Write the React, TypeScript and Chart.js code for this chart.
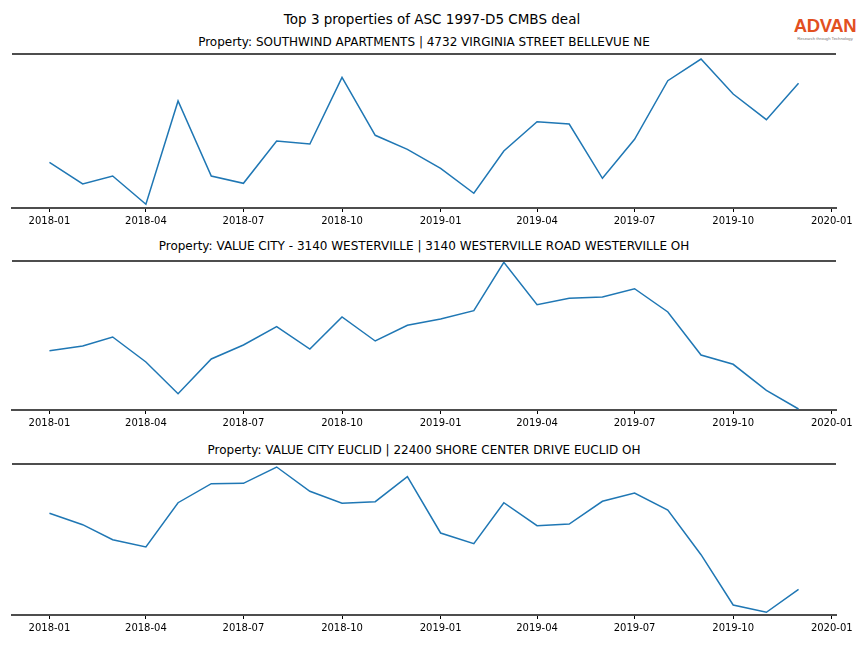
import React, { useEffect, useRef } from "react";
import { Chart, registerables } from "chart.js";

Chart.register(...registerables);

// ---- data ----
const months = [
  "2018-01", "2018-02", "2018-03", "2018-04", "2018-05", "2018-06",
  "2018-07", "2018-08", "2018-09", "2018-10", "2018-11", "2018-12",
  "2019-01", "2019-02", "2019-03", "2019-04", "2019-05", "2019-06",
  "2019-07", "2019-08", "2019-09", "2019-10", "2019-11", "2019-12",
];
const tickLabels = [
  "2018-01", "2018-04", "2018-07", "2018-10", "2019-01",
  "2019-04", "2019-07", "2019-10", "2020-01",
];

const suptitle = "Top 3 properties of ASC 1997-D5 CMBS deal";
const titles = [
  "Property: SOUTHWIND APARTMENTS | 4732 VIRGINIA STREET BELLEVUE NE",
  "Property: VALUE CITY - 3140 WESTERVILLE | 3140 WESTERVILLE ROAD WESTERVILLE OH",
  "Property: VALUE CITY EUCLID | 22400 SHORE CENTER DRIVE EUCLID OH",
];

const southwind = [
  45.7, 24, 32, 3.7, 107, 32, 24.7, 67, 64, 130.7, 72.7, 58.7,
  39.7, 14.7, 57, 86.3, 84, 29.7, 68.7, 127.3, 149, 114, 88.3, 124.7,
];
const westerville = [
  59.3, 64, 73, 48, 16.3, 51, 65, 83.3, 61, 93, 69, 84.7,
  91, 99.3, 147.7, 105.3, 111.7, 113, 121.3, 98, 55, 45.7, 19.7, 1,
];
const euclid = [
  101.7, 90.3, 75.3, 68, 112.3, 131.3, 131.7, 148, 123.7, 111.7, 113.3, 138.3,
  82, 71.3, 112.3, 89.3, 91, 113.7, 122, 105, 60.3, 10, 2.7, 25.7,
];
const yMax = [154, 149, 151];

// ---- helpers: month string -> days since 2018-01-01 ----
const EPOCH = Date.UTC(2018, 0, 1);
function dayOf(s: string): number {
  const [y, m] = s.split("-").map(Number);
  return (Date.UTC(y, m - 1, 1) - EPOCH) / 86400000;
}

// ---- layout ----
const W = 864;
const H = 648;
const PAD_TOP = 6;
const AXIS_H = 26;
const panels = [
  { values: southwind, top: 54, plotH: 154, titleY: 42 },
  { values: westerville, top: 261, plotH: 149, titleY: 246 },
  { values: euclid, top: 464, plotH: 151, titleY: 450 },
];

const FONT = "'DejaVu Sans', sans-serif";

const topSpine = {
  id: "topSpine",
  afterDraw(chart: any) {
    const { ctx, chartArea } = chart;
    ctx.save();
    ctx.strokeStyle = "#4d4d4d";
    ctx.lineWidth = 2;
    ctx.beginPath();
    ctx.moveTo(chartArea.left, chartArea.top);
    ctx.lineTo(chartArea.right, chartArea.top);
    ctx.stroke();
    ctx.restore();
  },
};

function Panel({ values, top, plotH, max }: { values: number[]; top: number; plotH: number; max: number }) {
  const ref = useRef<HTMLCanvasElement | null>(null);
  const canvasH = PAD_TOP + plotH + AXIS_H;
  useEffect(() => {
    if (!ref.current) return;
    const first = dayOf(months[0]);
    const last = dayOf(months[months.length - 1]);
    const margin = (last - first) * 0.05;
    const tickPos = tickLabels.map(dayOf);
    const chart = new Chart(ref.current, {
      type: "line",
      data: {
        datasets: [
          {
            data: values.map((v, i) => ({ x: dayOf(months[i]), y: v })),
            borderColor: "#1f77b4",
            borderWidth: 1.5,
            pointRadius: 0,
            tension: 0,
            fill: false,
          },
        ],
      },
      options: {
        animation: false,
        responsive: false,
        devicePixelRatio: 1,
        layout: { padding: { left: 12, right: 28, top: PAD_TOP, bottom: 0 } },
        plugins: { legend: { display: false }, title: { display: false }, tooltip: { enabled: false } },
        scales: {
          x: {
            type: "linear",
            min: first - margin,
            max: last + margin,
            afterBuildTicks: (scale: any) => {
              scale.ticks = tickPos.map((v) => ({ value: v }));
            },
            afterFit: (scale: any) => {
              scale.height = AXIS_H;
            },
            ticks: {
              autoSkip: false,
              maxRotation: 0,
              padding: 3,
              color: "#000",
              font: { family: FONT, size: 10 },
              callback: (v: any) => {
                const idx = tickPos.indexOf(Number(v));
                return idx >= 0 ? tickLabels[idx] : "";
              },
            },
            grid: {
              display: true,
              drawOnChartArea: false,
              drawTicks: true,
              tickLength: 4,
              tickColor: "#000",
              tickWidth: 1,
            },
            border: { display: true, color: "#4d4d4d", width: 2 },
          },
          y: {
            display: false,
            min: 0,
            max: max,
          },
        },
      },
      plugins: [topSpine],
    } as any);
    return () => chart.destroy();
  }, [values, max]);
  return (
    <canvas
      ref={ref}
      width={W}
      height={canvasH}
      style={{ position: "absolute", left: 0, top: top - PAD_TOP, width: W, height: canvasH }}
    />
  );
}

export default function App() {
  return (
    <div style={{ position: "absolute", left: 0, top: 0, width: W, height: H, background: "#fff", fontFamily: FONT, overflow: "hidden" }}>
      <div style={{ position: "absolute", left: 0, width: W, top: 10, height: 18, lineHeight: "18px", textAlign: "center", fontSize: 13.5, color: "#000" }}>
        {suptitle}
      </div>
      {panels.map((p, i) => (
        <div key={"t" + i} style={{ position: "absolute", left: 12, width: 824, top: p.titleY - 8, height: 16, lineHeight: "16px", textAlign: "center", fontSize: 12, color: "#000", whiteSpace: "nowrap" }}>
          {titles[i]}
        </div>
      ))}
      {panels.map((p, i) => (
        <Panel key={i} values={p.values} top={p.top} plotH={p.plotH} max={yMax[i]} />
      ))}
      <div style={{ position: "absolute", left: 790, top: 16, width: 70, textAlign: "center" }}>
        <div style={{ fontFamily: "'Liberation Sans', sans-serif", fontWeight: 700, fontSize: 18.5, lineHeight: "20px", color: "#e2501f", letterSpacing: -0.4 }}>ADVAN</div>
        <div style={{ fontFamily: "'Liberation Sans', sans-serif", fontSize: 4.2, lineHeight: "5px", color: "#777", whiteSpace: "nowrap" }}>Research through Technology</div>
      </div>
    </div>
  );
}
